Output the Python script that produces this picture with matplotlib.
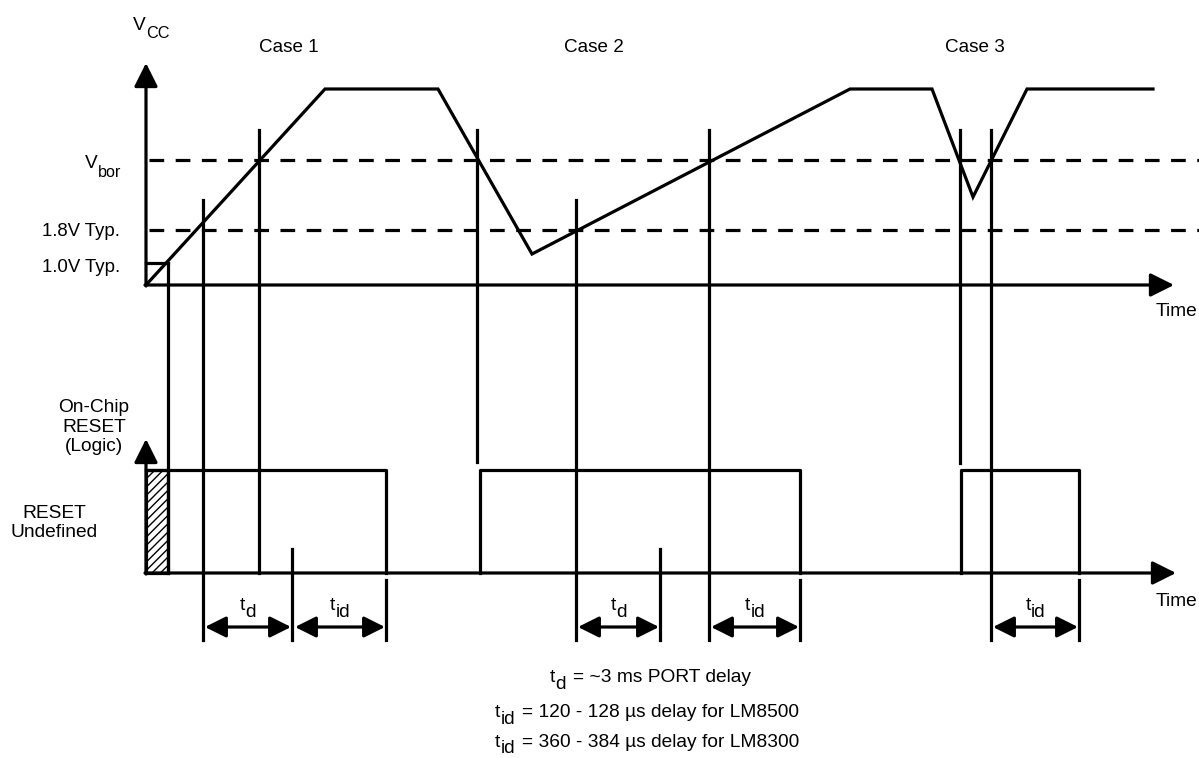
import matplotlib
matplotlib.use("Agg")
import matplotlib.pyplot as plt

plt.rcParams['font.family'] = ['Liberation Sans', 'DejaVu Sans']

# ---- data (drawing units: time ~ horizontal, level ~ vertical, top-down) ----
# VCC waveform breakpoints
vcc_t = [146, 325, 438, 532, 850, 932, 973, 1027, 1153]
vcc_v = [285, 89, 89, 254, 89, 89, 197, 89, 89]

# threshold levels
level_vbor = 160
level_18 = 230
level_10 = 263
vcc_base = 285
reset_base = 573
reset_high = 470

# reset logic pulses (start, end)
reset_pulses = [(168, 386), (480, 800), (961, 1079)]

# vertical marker lines (x, y_top, y_bottom)
markers = [
    (168, 263, 573),
    (203, 200, 640),
    (259, 130, 573),
    (292, 549, 640),
    (386, 580, 640),
    (477, 130, 462),
    (576, 200, 640),
    (660, 549, 640),
    (709, 130, 640),
    (800, 580, 640),
    (960, 130, 463),
    (991, 130, 640),
    (1079, 580, 640),
]

# delay spans (x0, x1, label)
spans = [(205, 291, 'd'), (295, 385, 'id'), (578, 659, 'd'),
         (711, 799, 'id'), (993, 1078, 'id')]
span_y = 627

case_labels = ['Case 1', 'Case 2', 'Case 3']
case_x = [289, 594, 975]

level_labels = ['1.8V Typ.', '1.0V Typ.']
level_label_y = [232, 267]

notes = [('t', 'd', '= ~3 ms PORT delay'),
         ('t', 'id', '= 120 - 128 µs delay for LM8500'),
         ('t', 'id', '= 360 - 384 µs delay for LM8300')]
notes_x = [550, 495, 495]
notes_y = [682, 717, 747]

W, H = 1199, 758
fig = plt.figure(figsize=(W / 100, H / 100), dpi=100)
ax = fig.add_axes([0, 0, 1, 1])
ax.set_xlim(0, W)
ax.set_ylim(H, 0)
ax.axis('off')
renderer = fig.canvas.get_renderer()

lw = 2.3
k = 'black'
fs = 13.8


def rich(x, y, base, sub, rest='', size=fs, subsize=None, drop=7,
         gap=5, ha='left'):
    """base text + subscript (+ rest) on a common baseline y (pixels)."""
    subsize = subsize or size
    parts = [(base, size, 0, 0), (sub, subsize, drop, gap if rest else 0)]
    if rest:
        parts.append((rest, size, 0, 0))
    arts, widths = [], []
    for s, sz, dy, g in parts:
        t = ax.text(0, y + dy, s, fontsize=sz, ha='left', va='baseline')
        widths.append(t.get_window_extent(renderer).width + g)
        arts.append(t)
    total = sum(widths) - (gap if rest else 0)
    if ha == 'center':
        x0 = x - total / 2
    elif ha == 'right':
        x0 = x - total
    else:
        x0 = x
    for t, w in zip(arts, widths):
        t.set_x(x0)
        x0 += w


def arrow(x0, y0, x1, y1):
    ax.annotate('', xy=(x1, y1), xytext=(x0, y0),
                arrowprops=dict(arrowstyle='-|>,head_length=0.9,head_width=0.45',
                                lw=lw, color=k, shrinkA=0, shrinkB=0,
                                mutation_scale=16))


arrow(146, vcc_base + 1, 146, 63)
arrow(145, vcc_base, 1174, vcc_base)
arrow(146, reset_base + 1, 146, 439)
arrow(145, reset_base, 1176, reset_base)

# dashed threshold lines
for yv in (level_vbor, level_18):
    ax.plot([149, W], [yv, yv], color=k, lw=lw, linestyle=(0, (4.6, 3.6)),
            solid_capstyle='butt', dash_capstyle='butt')

# 1.0V small box
ax.plot([146, 168], [level_10, level_10], color=k, lw=lw)

# VCC waveform
ax.plot(vcc_t, vcc_v, color=k, lw=lw, solid_joinstyle='miter')

# reset pulses
for i, (a, b) in enumerate(reset_pulses):
    if i == 0:
        ax.plot([146, b, b], [reset_high, reset_high, reset_base], color=k, lw=lw)
    else:
        ax.plot([a, a, b, b], [reset_base, reset_high, reset_high, reset_base],
                color=k, lw=lw)

# hatched undefined region
ax.fill([146, 168, 168, 146], [reset_high, reset_high, reset_base, reset_base],
        facecolor='white', edgecolor=k, hatch='////', lw=lw)

# vertical markers
for (x, y0, y1) in markers:
    ax.plot([x, x], [y0, y1], color=k, lw=lw)

# delay spans
for (a, b, lab) in spans:
    ax.annotate('', xy=(b, span_y), xytext=(a, span_y),
                arrowprops=dict(arrowstyle='<|-|>,head_length=0.8,head_width=0.4',
                                lw=lw, color=k, shrinkA=0, shrinkB=0,
                                mutation_scale=16))
    rich((a + b) / 2, 610, 't', lab, ha='center', drop=7)

# text labels
rich(133, 30, 'V', 'CC', subsize=fs * 0.85, drop=8)
for cx, cl in zip(case_x, case_labels):
    ax.text(cx, 47, cl, ha='center', va='center', fontsize=13.6)
rich(121, 168, 'V', 'bor', subsize=fs * 0.85, drop=9, ha='right')
for lab, yy in zip(level_labels, level_label_y):
    ax.text(120, yy, lab, ha='right', va='center', fontsize=13.4)
ax.text(1177, 312, 'Time', ha='center', va='center', fontsize=fs)
ax.text(1177, 601, 'Time', ha='center', va='center', fontsize=fs)
ax.text(94, 427, 'On-Chip\nRESET\n(Logic)', ha='center', va='center',
        fontsize=fs, linespacing=1.2)
ax.text(54, 523, 'RESET\nUndefined', ha='center', va='center',
        fontsize=fs, linespacing=1.2)

for i, ((b, s, r), nx, ny) in enumerate(zip(notes, notes_x, notes_y)):
    rich(nx, ny, b, s, r, drop=6 if i == 2 else 7, gap=7)

fig.savefig('out.png', dpi=100)
